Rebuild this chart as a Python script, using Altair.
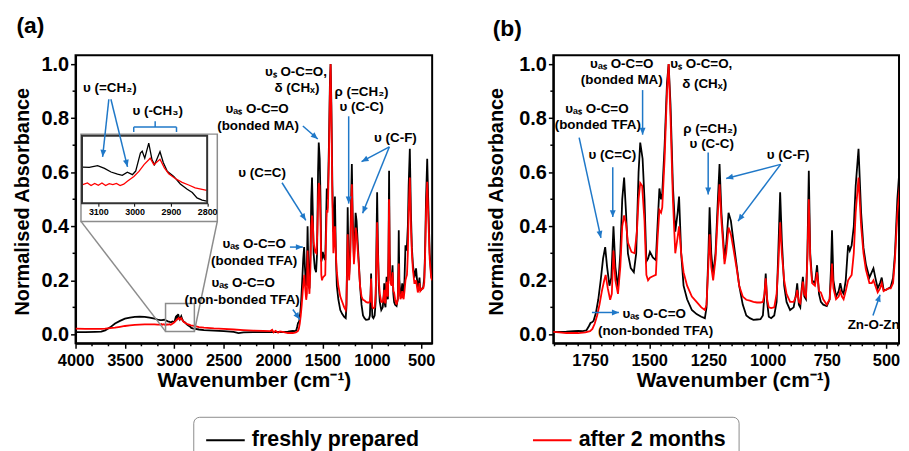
import math
import altair as alt
import pandas as pd

FONT = "Liberation Sans"
BLUE = "#1f78c8"
GRAY = "#8c8c8c"

SERIES = ["freshly prepared", "after 2 months"]
SERIES_COLORS = ["#000000", "#ff0000"]

# (wavenumber cm-1, normalised absorbance)
FRESH = [
    (4000, 0.008), (3900, 0.008), (3800, 0.009), (3740, 0.010), (3700, 0.015), (3650, 0.026),
    (3600, 0.040), (3550, 0.050), (3500, 0.058), (3450, 0.062), (3400, 0.065), (3350, 0.066),
    (3300, 0.065), (3250, 0.062), (3200, 0.058), (3170, 0.055),
    (3143, 0.0527), (3125, 0.0524), (3102, 0.054), (3083, 0.0515), (3065, 0.0481), (3047, 0.0462),
    (3034, 0.045), (3020, 0.048), (3006, 0.0457), (2997, 0.049), (2984, 0.0657), (2979, 0.0675),
    (2972, 0.061), (2961, 0.075), (2952, 0.0595), (2945, 0.055), (2930, 0.067), (2921, 0.057),
    (2910, 0.0487), (2892, 0.044), (2874, 0.037), (2855, 0.032), (2841, 0.029), (2828, 0.024),
    (2814, 0.022), (2801, 0.021),
    (2750, 0.018), (2700, 0.016), (2600, 0.014), (2500, 0.012), (2400, 0.009), (2350, 0.005),
    (2300, 0.007), (2200, 0.008), (2100, 0.008), (2000, 0.008), (1950, 0.009), (1905, 0.008),
    (1880, 0.009), (1850, 0.010), (1820, 0.012), (1800, 0.013), (1780, 0.012), (1765, 0.015),
    (1755, 0.030), (1748, 0.042), (1742, 0.045), (1735, 0.050), (1725, 0.080), (1715, 0.130),
    (1705, 0.200), (1695, 0.280), (1686, 0.323), (1678, 0.250), (1668, 0.180), (1660, 0.210),
    (1651, 0.400), (1643, 0.250), (1632, 0.170), (1622, 0.300), (1614, 0.500), (1606, 0.580),
    (1598, 0.450), (1590, 0.300), (1578, 0.245), (1565, 0.230), (1555, 0.300), (1545, 0.600),
    (1538, 0.710), (1528, 0.650), (1520, 0.500), (1512, 0.270), (1505, 0.280), (1497, 0.305),
    (1485, 0.285), (1472, 0.275), (1465, 0.400), (1457, 0.540), (1450, 0.500), (1445, 0.520),
    (1435, 0.700), (1425, 0.930), (1418, 1.000), (1410, 0.850), (1400, 0.550), (1390, 0.380),
    (1380, 0.450), (1374, 0.510), (1365, 0.300), (1355, 0.180), (1340, 0.130), (1320, 0.090),
    (1300, 0.075), (1280, 0.065), (1265, 0.060), (1258, 0.100), (1250, 0.300), (1245, 0.470),
    (1238, 0.300), (1230, 0.220), (1220, 0.300), (1210, 0.500), (1203, 0.630), (1195, 0.450),
    (1182, 0.280), (1175, 0.330), (1165, 0.450), (1155, 0.420), (1145, 0.350), (1130, 0.250),
    (1120, 0.180), (1105, 0.110), (1090, 0.070), (1075, 0.060), (1060, 0.054), (1045, 0.055),
    (1030, 0.056), (1020, 0.070), (1013, 0.150), (1008, 0.225), (1002, 0.120), (995, 0.065),
    (985, 0.060), (972, 0.070), (962, 0.120), (955, 0.300), (947, 0.526), (940, 0.350),
    (930, 0.180), (920, 0.120), (905, 0.090), (890, 0.100), (880, 0.150), (875, 0.189),
    (868, 0.110), (862, 0.100), (856, 0.170), (851, 0.213), (845, 0.140), (838, 0.130),
    (832, 0.300), (826, 0.605), (820, 0.300), (812, 0.200), (800, 0.190), (791, 0.256),
    (783, 0.150), (775, 0.120), (765, 0.110), (750, 0.105), (738, 0.130), (732, 0.250),
    (728, 0.385), (722, 0.200), (711, 0.140), (700, 0.160), (693, 0.189), (686, 0.160),
    (679, 0.150), (670, 0.200), (660, 0.330), (653, 0.310), (645, 0.330), (636, 0.400),
    (628, 0.550), (616, 0.687), (605, 0.450), (595, 0.320), (585, 0.260), (570, 0.210),
    (560, 0.230), (553, 0.244), (545, 0.210), (535, 0.170), (525, 0.190), (518, 0.210),
    (510, 0.165), (500, 0.165), (490, 0.170), (480, 0.175), (470, 0.210), (462, 0.300),
    (452, 0.500), (440, 0.650), (430, 0.500), (415, 0.300), (400, 0.220), (390, 0.200),
]

AGED = [
    (4000, 0.021), (3900, 0.020), (3800, 0.020), (3740, 0.020), (3700, 0.021), (3650, 0.023),
    (3600, 0.025), (3550, 0.028), (3500, 0.031), (3450, 0.033), (3400, 0.035), (3350, 0.036),
    (3300, 0.037), (3250, 0.037), (3200, 0.037), (3170, 0.036),
    (3143, 0.0364), (3130, 0.038), (3120, 0.0355), (3110, 0.0375), (3100, 0.0357), (3090, 0.0378),
    (3080, 0.0355), (3070, 0.0372), (3060, 0.0364), (3050, 0.0375), (3040, 0.0355), (3030, 0.0368),
    (3020, 0.0395), (3002, 0.044), (2988, 0.0487), (2974, 0.055), (2961, 0.0595), (2957, 0.061),
    (2947, 0.055), (2930, 0.060), (2918, 0.052), (2906, 0.0465), (2888, 0.042), (2869, 0.0385),
    (2851, 0.036), (2833, 0.0333), (2814, 0.032), (2801, 0.031),
    (2750, 0.027), (2700, 0.025), (2600, 0.022), (2500, 0.020), (2400, 0.018), (2300, 0.016),
    (2200, 0.014), (2100, 0.013), (2030, 0.012), (2010, 0.017), (1995, 0.007), (1975, 0.013),
    (1950, 0.006), (1930, 0.011), (1905, 0.009), (1880, 0.007), (1850, 0.005), (1800, 0.005),
    (1770, 0.007), (1750, 0.012), (1740, 0.020), (1730, 0.040), (1720, 0.070), (1710, 0.110),
    (1700, 0.160), (1690, 0.200), (1684, 0.220), (1675, 0.170), (1665, 0.128), (1658, 0.150),
    (1651, 0.310), (1643, 0.200), (1632, 0.150), (1622, 0.250), (1614, 0.400), (1606, 0.440),
    (1598, 0.410), (1590, 0.340), (1575, 0.305), (1562, 0.300), (1552, 0.380), (1545, 0.500),
    (1538, 0.560), (1530, 0.550), (1520, 0.420), (1512, 0.220), (1505, 0.200), (1497, 0.210),
    (1485, 0.215), (1472, 0.220), (1465, 0.350), (1457, 0.460), (1450, 0.450), (1445, 0.470),
    (1435, 0.650), (1425, 0.900), (1418, 1.000), (1410, 0.800), (1400, 0.500), (1390, 0.300),
    (1380, 0.360), (1374, 0.400), (1365, 0.300), (1355, 0.230), (1340, 0.180), (1320, 0.140),
    (1300, 0.120), (1280, 0.100), (1265, 0.090), (1258, 0.110), (1250, 0.260), (1245, 0.370),
    (1238, 0.250), (1230, 0.200), (1220, 0.280), (1210, 0.450), (1203, 0.555), (1195, 0.420),
    (1182, 0.260), (1175, 0.300), (1165, 0.395), (1155, 0.370), (1145, 0.320), (1130, 0.240),
    (1120, 0.180), (1105, 0.140), (1090, 0.128), (1075, 0.125), (1060, 0.120), (1045, 0.118),
    (1030, 0.118), (1020, 0.120), (1013, 0.150), (1008, 0.207), (1002, 0.130), (995, 0.100),
    (985, 0.097), (972, 0.100), (962, 0.150), (955, 0.250), (947, 0.415), (940, 0.300),
    (930, 0.200), (920, 0.150), (905, 0.120), (890, 0.120), (880, 0.140), (875, 0.165),
    (868, 0.120), (862, 0.115), (856, 0.160), (851, 0.195), (845, 0.150), (838, 0.140),
    (832, 0.280), (826, 0.500), (820, 0.280), (812, 0.190), (800, 0.180), (791, 0.230),
    (783, 0.160), (775, 0.155), (765, 0.130), (750, 0.110), (738, 0.130), (732, 0.200),
    (728, 0.262), (722, 0.170), (711, 0.130), (700, 0.140), (693, 0.160), (686, 0.140),
    (679, 0.130), (670, 0.160), (660, 0.200), (653, 0.210), (645, 0.220), (636, 0.300),
    (628, 0.450), (616, 0.580), (605, 0.400), (595, 0.300), (585, 0.240), (570, 0.190),
    (560, 0.190), (553, 0.200), (545, 0.180), (535, 0.155), (525, 0.170), (518, 0.190),
    (510, 0.160), (500, 0.165), (490, 0.170), (480, 0.170), (470, 0.190), (462, 0.280),
    (452, 0.450), (440, 0.565), (430, 0.450), (415, 0.280), (400, 0.210), (390, 0.200),
]

A_MAJOR = [4000, 3500, 3000, 2500, 2000, 1500, 1000, 500]
A_MINOR = [3833.3, 3666.7, 3333.3, 3166.7, 2833.3, 2666.7, 2333.3, 2166.7,
           1833.3, 1666.7, 1333.3, 1166.7, 833.3, 666.7]
B_MAJOR = [1750, 1500, 1250, 1000, 750, 500]
B_MINOR = [1900, 1850, 1800, 1700, 1650, 1600, 1550, 1450, 1400, 1350, 1300, 1200,
           1150, 1100, 1050, 950, 900, 850, 800, 700, 650, 600, 550, 450]
Y_MAJOR = [0.0, 0.2, 0.4, 0.6, 0.8, 1.0]
Y_MINOR = [0.1, 0.3, 0.5, 0.7, 0.9]
INSET_MAJOR = [3100, 3000, 2900, 2800]

# annotations: (text, wavenumber, absorbance)
A_LABELS = [
    ("υₛ O-C=O,", 1769, 0.972), ("δ (CHₓ)", 1759, 0.910),
    ("ρ (=CH₂)", 1105, 0.895), ("υ (C-C)", 1105, 0.840),
    ("υₐₛ O-C=O", 2162, 0.835), ("(bonded MA)", 2152, 0.771),
    ("υ (C-F)", 762, 0.727), ("υ (C=C)", 2112, 0.598),
    ("υₐₛ O-C=O", 2192, 0.334), ("(bonded TFA)", 2192, 0.272),
    ("υₐₛ O-C=O", 2303, 0.191), ("(non-bonded TFA)", 2313, 0.128),
    ("υ (=CH₂)", 3653, 0.910), ("υ (-CH₃)", 3169, 0.826),
]
# arrows: (from wn, from abs, to wn, to abs)
A_ARROWS = [
    (1699, 0.771, 1548, 0.723), (1235, 0.807, 1235, 0.484),
    (823, 0.694, 1105, 0.639), (823, 0.694, 1094, 0.448),
    (1910, 0.561, 1669, 0.422), (1830, 0.323, 1699, 0.323),
    (1800, 0.092, 1729, 0.055), (3663, 0.870, 3726, 0.657),
    (3642, 0.870, 3474, 0.620),
]
A_BRACKET = [
    (3411, 0.767, 2978, 0.767), (3411, 0.767, 3411, 0.749),
    (2978, 0.767, 2978, 0.749), (3194, 0.767, 3194, 0.789),
]
B_LABELS = [
    ("υₐₛ O-C=O", 1616, 1.000), ("(bonded MA)", 1616, 0.943),
    ("υₛ O-C=O,", 1280, 1.000), ("δ (CHₓ)", 1266, 0.926),
    ("υₐₛ O-C=O", 1721, 0.835), ("(bonded TFA)", 1717, 0.774),
    ("υ (C=C)", 1656, 0.662), ("ρ (=CH₂)", 1242, 0.761),
    ("υ (C-C)", 1236, 0.706), ("υ (C-F)", 913, 0.664),
    ("υₐₛ O-C=O", 1479, 0.075), ("(non-bonded TFA)", 1473, 0.011),
    ("Zn-O-Zn", 552, 0.035),
]
B_ARROWS = [
    (1528, 0.904, 1528, 0.739), (1796, 0.728, 1704, 0.357),
    (1654, 0.618, 1654, 0.434), (1251, 0.673, 1251, 0.518),
    (945, 0.629, 1175, 0.577), (945, 0.629, 1125, 0.419),
    (1742, 0.081, 1628, 0.081), (555, 0.070, 525, 0.147),
]
# inset frame (panel a units) and the zoomed region
INSET_BOX = [(3945, 2565, 0.418, 0.741)]
ZOOM_BOX = [(3089, 2797, 0.011, 0.114)]
ZOOM_LINKS = [(3945, 0.418, 3089, 0.011), (2565, 0.418, 2797, 0.011)]

# ---------------- layout ----------------
H = 290
A_W, B_W, GAP = 359, 348, 122
Y_DOM = [-0.033, 1.033]
A_DOM = [4000, 390]
B_DOM = [1905, 445]
INSET_X_DOM = [3145, 2800]
INSET_Y_DOM = [0.019, 0.082]
INSET_X_RANGE = [6.5, 132.5]
INSET_Y_RANGE = [149, 81]
ARROW = "M0,0L0.85,2L-0.85,2Z"
LEGEND_LINE = "M-1,0L2.7,0"

spec = pd.DataFrame(
    [(w, v, SERIES[0]) for w, v in FRESH] + [(w, v, SERIES[1]) for w, v in AGED],
    columns=["wn", "val", "series"],
)


def xs(xdom):
    return alt.Scale(domain=xdom, nice=False, zero=False)


def ys():
    return alt.Scale(domain=Y_DOM, nice=False, zero=False)


def x_axis(values, title_x):
    return alt.Axis(values=values, format="d", tickSize=5, labelFontSize=16.5, labelPadding=4,
                    labelFlush=False, labelOverlap=False, title="Wavenumber (cm⁻¹)",
                    titleFontSize=21, titleX=title_x, titleY=44, titleAlign="center",
                    titleBaseline="alphabetic")


def y_axis(title_x):
    return alt.Axis(values=Y_MAJOR, format=".1f", tickSize=5, labelFontSize=20, labelPadding=2,
                    labelOverlap=False, title="Normalised Absorbance", titleFontSize=20,
                    titleX=title_x, titleY=147, titleAngle=270, titleAlign="center",
                    titleBaseline="middle")


def line(xdom, name, xa, ya, legend):
    color_scale = alt.Scale(domain=SERIES, range=SERIES_COLORS)
    if legend is None:
        col = alt.Color("series:N", scale=color_scale, legend=None)
    else:
        col = alt.Color("series:N", scale=color_scale, legend=legend)
    return (alt.Chart(spec).transform_filter(alt.datum.series == name)
            .mark_line(strokeWidth=1.8, clip=True).encode(
                x=alt.X("wn:Q", scale=xs(xdom), axis=xa),
                y=alt.Y("val:Q", scale=ys(), axis=ya),
                color=col))


def minor_ticks(xvals, xdom, xa, ya):
    mx = alt.Chart(pd.DataFrame({"t": xvals})).mark_rule(color="black", strokeWidth=1.5).encode(
        x=alt.X("t:Q", scale=xs(xdom), axis=xa), y=alt.value(H), y2=alt.value(H + 3))
    my = alt.Chart(pd.DataFrame({"t": Y_MINOR})).mark_rule(color="black", strokeWidth=1.5).encode(
        y=alt.Y("t:Q", scale=ys(), axis=ya), x=alt.value(0), x2=alt.value(-3))
    return [mx, my]


def texts(rows, xdom, xa, ya):
    df = pd.DataFrame(rows, columns=["label", "wn", "val"])
    return alt.Chart(df).mark_text(font=FONT, fontSize=13.5, fontWeight="bold", color="black",
                                   align="center", baseline="middle").encode(
        x=alt.X("wn:Q", scale=xs(xdom), axis=xa),
        y=alt.Y("val:Q", scale=ys(), axis=ya),
        text="label:N")


def segments(rows, xdom, color, xa, ya):
    df = pd.DataFrame(rows, columns=["w1", "v1", "w2", "v2"])
    return alt.Chart(df).mark_rule(color=color, strokeWidth=1.5).encode(
        x=alt.X("w1:Q", scale=xs(xdom), axis=xa), x2=alt.X2("w2"),
        y=alt.Y("v1:Q", scale=ys(), axis=ya), y2=alt.Y2("v2"))


def arrows(rows, xdom, width, xa, ya):
    df = pd.DataFrame(rows, columns=["w1", "v1", "w2", "v2"])
    sx = width / (xdom[0] - xdom[1])
    sy = H / (Y_DOM[1] - Y_DOM[0])
    df["ang"] = [math.degrees(math.atan2(-(r.w2 - r.w1) * sx, (r.v2 - r.v1) * sy)) % 360
                 for r in df.itertuples()]
    shaft = segments(rows, xdom, BLUE, xa, ya)
    head = alt.Chart(df).mark_point(shape=ARROW, filled=True, size=49, color=BLUE, opacity=1,
                                    strokeWidth=0).encode(
        x=alt.X("w2:Q", scale=xs(xdom), axis=xa),
        y=alt.Y("v2:Q", scale=ys(), axis=ya),
        angle=alt.Angle("ang:Q", scale=None))
    return [shaft, head]


def panel_label(text, dx, dy):
    return alt.Chart(alt.Data(values=[{"t": text}])).mark_text(
        font=FONT, fontSize=23, fontWeight="bold", color="black", align="left",
        baseline="alphabetic").encode(x=alt.value(dx), y=alt.value(dy), text="t:N")


def boxes(rows, xdom, fill, stroke, opacity, xa, ya):
    df = pd.DataFrame(rows, columns=["w1", "w2", "v1", "v2"])
    return alt.Chart(df).mark_rect(fill=fill, fillOpacity=opacity, stroke=stroke,
                                   strokeWidth=1.5).encode(
        x=alt.X("w1:Q", scale=xs(xdom), axis=xa), x2=alt.X2("w2"),
        y=alt.Y("v1:Q", scale=ys(), axis=ya), y2=alt.Y2("v2"))


legend = alt.Legend(orient="none", legendX=118.5, legendY=364, direction="horizontal",
                    title=None, symbolType=LEGEND_LINE, symbolSize=441, symbolStrokeWidth=2,
                    labelFont=FONT, labelFontSize=21.5, labelFontWeight="bold",
                    labelColor="black", labelLimit=400, labelOffset=24, columnPadding=110,
                    padding=12, strokeColor=GRAY, cornerRadius=6, fillColor="white", columns=2)

anchor = alt.Chart(alt.Data(values=[{"a": 1}])).mark_rule(opacity=0).encode(
    x=alt.value(-66.5), x2=alt.value(-60), y=alt.value(-45), y2=alt.value(-45))

# ---------------- panel (a) ----------------
XA = x_axis(A_MAJOR, A_W / 2)
YA = y_axis(-53)
main_a = alt.layer(
    line(A_DOM, SERIES[0], XA, YA, legend),
    line(A_DOM, SERIES[1], XA, YA, legend),
    *minor_ticks(A_MINOR, A_DOM, XA, YA),
    boxes(ZOOM_BOX, A_DOM, "white", GRAY, 0, XA, YA),
    segments(ZOOM_LINKS, A_DOM, GRAY, XA, YA),
    boxes(INSET_BOX, A_DOM, "white", GRAY, 1, XA, YA),
    panel_label("(a)", -59.5, -22.5),
    anchor,
)

inset_df = spec[(spec.wn <= INSET_X_DOM[0]) & (spec.wn >= INSET_X_DOM[1])]
ix = alt.Scale(domain=INSET_X_DOM, range=INSET_X_RANGE, nice=False, zero=False)
iy = alt.Scale(domain=INSET_Y_DOM, range=INSET_Y_RANGE, nice=False, zero=False)
inset_axis = alt.Axis(orient="bottom", offset=-141, values=INSET_MAJOR, format="d", tickSize=3,
                      labelFontSize=9, labelPadding=1, labelFlush=False, labelOverlap=False,
                      domain=False, title=None, tickWidth=1, zindex=2)
inset_layers = []
for name, col in zip(SERIES, SERIES_COLORS):
    inset_layers.append(
        alt.Chart(inset_df[inset_df.series == name]).mark_line(color=col, strokeWidth=1.3).encode(
            x=alt.X("wn:Q", scale=ix, axis=inset_axis),
            y=alt.Y("val:Q", scale=iy, axis=None)))
inset_frame = alt.Chart(alt.Data(values=[{"w1": INSET_X_DOM[0], "w2": INSET_X_DOM[1],
                                          "v1": INSET_Y_DOM[0], "v2": INSET_Y_DOM[1]}])).mark_rect(
    fillOpacity=0, stroke="#333333", strokeWidth=2).encode(
    x=alt.X("w1:Q", scale=ix, axis=inset_axis), x2=alt.X2("w2"),
    y=alt.Y("v1:Q", scale=iy, axis=None), y2=alt.Y2("v2"))
inset_a = alt.layer(*inset_layers, inset_frame)

annot_a = alt.layer(
    texts(A_LABELS, A_DOM, None, None),
    segments(A_BRACKET, A_DOM, BLUE, None, None),
    *arrows(A_ARROWS, A_DOM, A_W, None, None),
)

panel_a = alt.layer(main_a, inset_a, annot_a).resolve_scale(
    x="independent", y="independent").properties(width=A_W, height=H)

# ---------------- panel (b) ----------------
XB = x_axis(B_MAJOR, 181)
YB = y_axis(-57)
panel_b = alt.layer(
    line(B_DOM, SERIES[0], XB, YB, None),
    line(B_DOM, SERIES[1], XB, YB, None),
    *minor_ticks(B_MINOR, B_DOM, XB, YB),
    texts(B_LABELS, B_DOM, XB, YB),
    *arrows(B_ARROWS, B_DOM, B_W, XB, YB),
    panel_label("(b)", -61, -19.5),
).properties(width=B_W, height=H)

chart = (
    alt.hconcat(panel_a, panel_b, spacing=GAP, bounds="flush")
    .resolve_scale(color="independent")
    .resolve_legend(color="independent")
    .properties(padding=0)
    .configure(font=FONT)
    .configure_view(stroke="black", strokeWidth=2)
    .configure_axis(labelFont=FONT, titleFont=FONT, labelFontWeight="bold",
                    titleFontWeight="bold", labelColor="black", titleColor="black",
                    domainColor="black", tickColor="black", domainWidth=2, tickWidth=1.5,
                    grid=False)
)

chart.save("out.html", embed_options={"renderer": "svg", "actions": False})
